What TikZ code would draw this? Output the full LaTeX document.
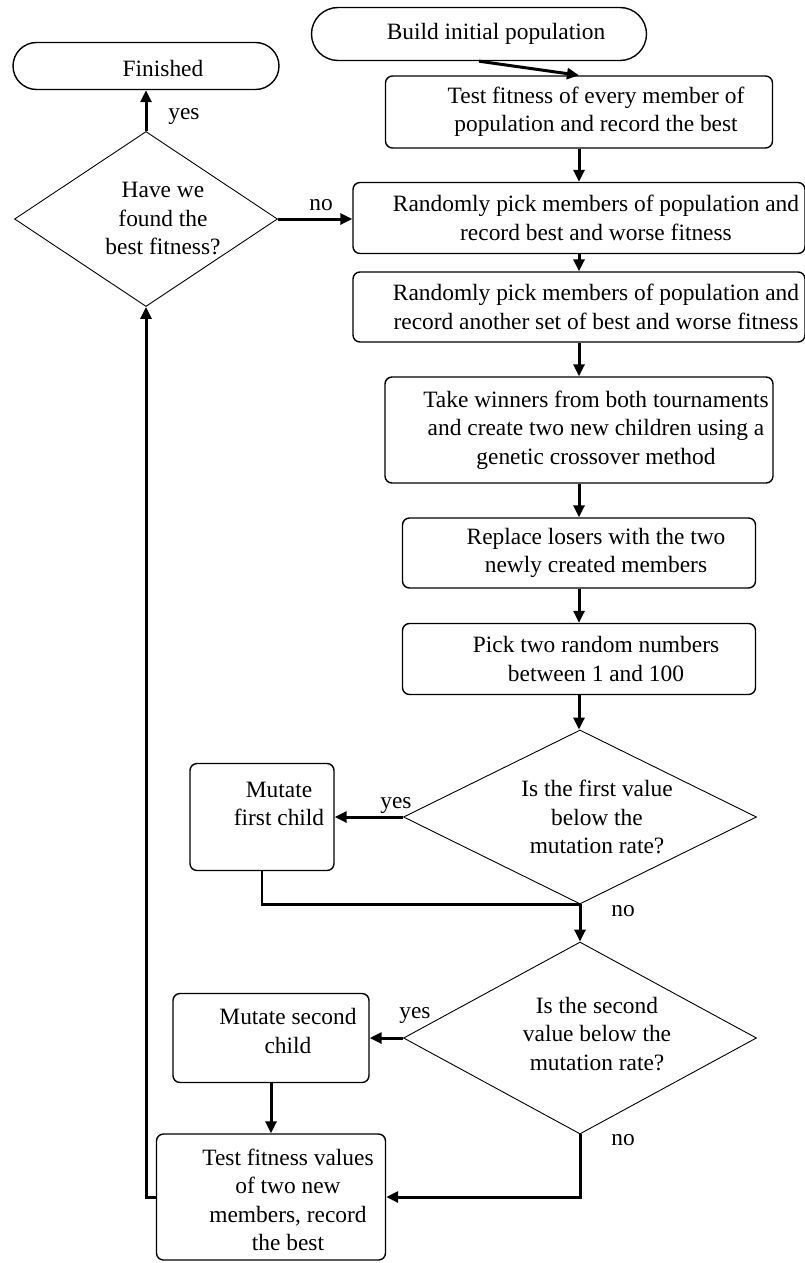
\documentclass[tikz,border=0pt]{standalone}
\usepackage{fontspec}
\setmainfont{Liberation Serif}
\usetikzlibrary{calc,shapes.geometric,shapes.misc,arrows.meta}

\begin{document}
\begin{tikzpicture}[x=1pt,y=-1pt]

% ------------------------------------------------------------------
% Editable parameters
% Coordinates are image pixels, counted from the top left corner.
% Each shape is specified as: \stepbox[text drop]{name}{x}{y}{width}{height}{text}
% The text sits 17 units right of the shape centre, as in the drawing.
% ------------------------------------------------------------------
\tikzset{
  stepshape/.style={draw=black, line width=1.4pt, rectangle, rounded corners=7pt, inner sep=0pt},
  endshape/.style={draw=black, line width=1.4pt, rounded rectangle, inner sep=0pt},
  askshape/.style={draw=black, line width=0.9pt, diamond, inner sep=0pt},
  words/.style={font=\fontsize{23.4}{28.5}\selectfont, align=center, inner sep=0pt},
  flow/.style={line width=3pt, -{Triangle[length=12pt,width=11pt]}},
  link/.style={line width=2.6pt},
}
\newcommand{\stepbox}[7][0]{%
  \node[stepshape, minimum width=#5pt, minimum height=#6pt] (#2) at (#3,#4) {};
  \node[words] (#2-text) at ($(#2.center)+(17,#1)$) {#7};
}
\newcommand{\askbox}[7][0]{%
  \node[askshape, minimum width=#5pt, minimum height=#6pt] (#2) at (#3,#4) {};
  \node[words] (#2-text) at ($(#2.center)+(17,#1)$) {#7};
}

\useasboundingbox (0,0) rectangle (805,1263);

% Start and end of the run.
\node[endshape, minimum width=335pt, minimum height=53pt] (build) at (479,34) {};
\node[words] (build-text) at ($(build.center)+(17,0)$) {Build initial population};
\node[endshape, minimum width=266pt, minimum height=47pt] (finished) at (146,66) {};
\node[words] (finished-text) at ($(finished.center)+(17,2)$) {Finished};

% Main column of steps.
\stepbox{test}{579}{112}{387}{72}{Test fitness of every member of\\population and record the best}
\stepbox{pick1}{579}{218}{452}{71}{Randomly pick members of population and\\record best and worse fitness}
\stepbox{pick2}{579}{307}{452}{70}{Randomly pick members of population and\\record another set of best and worse fitness}
\stepbox{winners}{579}{430}{388}{106}{Take winners from both tournaments\\and create two new children using a\\genetic crossover method}
\stepbox{replace}{579}{553}{353}{70}{Replace losers with the two\\newly created members}
\stepbox{pickrand}{579}{659}{353}{71}{Pick two random numbers\\between 1 and 100}

% Decisions.
\askbox{found}{146}{219}{263}{175}{Have we\\found the\\best fitness?}
\askbox{first}{580}{817}{353}{174}{Is the first value\\below the\\mutation rate?}
\askbox[-4]{second}{580}{1038}{353}{192}{Is the second\\value below the\\mutation rate?}

% Mutation and re-test steps.
\stepbox[-13]{mut1}{262}{817}{144}{107}{Mutate\\first child}
\stepbox[-7]{mut2}{271}{1038}{196}{89}{Mutate second\\child}
\stepbox[3]{testnew}{271}{1197}{229}{126}{Test fitness values\\of two new\\members, record\\the best}

% Connectors.
\draw[flow] (build.south) -- (test.north);
\draw[flow] (test) -- (pick1);
\draw[flow] (pick1) -- (pick2);
\draw[flow] (pick2) -- (winners);
\draw[flow] (winners) -- (replace);
\draw[flow] (replace) -- (pickrand);
\draw[flow] (pickrand.south) -- (pickrand.south |- first.north);
\draw[flow] (first.south) -- (second.north);
\draw[flow] (first.west) -- (mut1.east);
\draw[link] (mut1.south) |- (first.south);
\draw[flow] (second.west) -- (mut2.east);
\draw[flow] (mut2) -- (testnew);
\draw[flow] (second.south) |- (testnew.east);
\draw[flow] (testnew.west) -| (found.south);
\draw[flow] (found) -- (finished);
\draw[flow] (found.east) -- (found.east -| pick1.west);

% Answers on the decision arrows.
\node[words] (found-yes) at (184,117) {yes};
\node[words] (found-no) at (321,205) {no};
\node[words] (first-yes) at (396,806) {yes};
\node[words] (first-no) at (623,911) {no};
\node[words] (second-yes) at (415,1015) {yes};
\node[words] (second-no) at (623,1140) {no};

\end{tikzpicture}
\end{document}
